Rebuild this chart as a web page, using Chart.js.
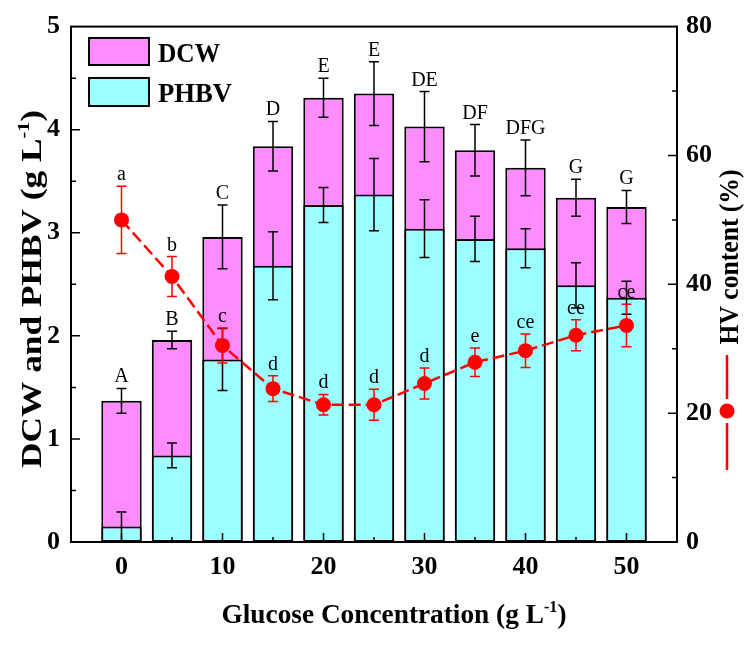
<!DOCTYPE html>
<html>
<head>
<meta charset="utf-8">
<script src="https://cdn.jsdelivr.net/npm/chart.js@4.4.1/dist/chart.umd.min.js"></script>
<style>
  html, body { margin: 0; padding: 0; background: #fff; }
  canvas { display: block; }
</style>
</head>
<body>
<canvas id="chart" width="754" height="645"></canvas>
<script>
// data
const glucose = [0, 5, 10, 15, 20, 25, 30, 35, 40, 45, 50];
const dcw = [1.37, 1.96, 2.96, 3.84, 4.31, 4.35, 4.03, 3.80, 3.63, 3.34, 3.25];
const dcwErr = [0.12, 0.085, 0.31, 0.24, 0.19, 0.31, 0.34, 0.25, 0.27, 0.18, 0.16];
const phbv = [0.15, 0.84, 1.77, 2.68, 3.27, 3.37, 3.04, 2.94, 2.85, 2.49, 2.37];
const phbvErr = [0.14, 0.12, 0.30, 0.33, 0.17, 0.35, 0.28, 0.22, 0.19, 0.22, 0.16];
const hv = [50.0, 41.2, 30.5, 23.8, 21.3, 21.3, 24.6, 27.9, 29.7, 32.1, 33.6];
const hvErr = [5.2, 3.1, 2.7, 2.0, 1.6, 2.4, 2.4, 2.2, 2.6, 2.4, 3.3];
const dcwLetters = ['A', 'B', 'C', 'D', 'E', 'E', 'DE', 'DF', 'DFG', 'G', 'G'];
const hvLetters = ['a', 'b', 'c', 'd', 'd', 'd', 'd', 'e', 'ce', 'ce', 'ce'];
const xTicks = [0, 10, 20, 30, 40, 50];
const yTicks = [0, 1, 2, 3, 4, 5];
const y1Ticks = [0, 20, 40, 60, 80];

const SERIF = '"Liberation Serif", "Times New Roman", serif';
const MAGENTA = '#FF8CFF';
const CYAN = '#9CFFFF';
const RED = '#FF0000';

function drawErr(ctx, xs, ys, vals, errs, color) {
    ctx.save();
    ctx.strokeStyle = color;
    ctx.lineWidth = 1.5;
    vals.forEach((v, i) => {
        const x = xs.getPixelForValue(glucose[i]);
        const top = ys.getPixelForValue(v + errs[i]);
        const bot = ys.getPixelForValue(Math.max(v - errs[i], 0));
        ctx.beginPath();
        ctx.moveTo(x, top); ctx.lineTo(x, bot);
        ctx.moveTo(x - 5, top); ctx.lineTo(x + 5, top);
        ctx.moveTo(x - 5, bot); ctx.lineTo(x + 5, bot);
        ctx.stroke();
    });
    ctx.restore();
}

// text squeezed/stretched to a given length, parts = [text, font, rise]
function fitText(ctx, parts, cx, cy, len, angle, base) {
    let w = 0;
    const widths = parts.map(p => {
        ctx.font = p[1];
        const m = ctx.measureText(p[0]).width;
        w += m;
        return m;
    });
    ctx.save();
    ctx.translate(cx, cy);
    ctx.rotate(angle);
    ctx.scale(len / w, 1);
    ctx.fillStyle = '#000';
    ctx.textAlign = 'left';
    ctx.textBaseline = 'alphabetic';
    let x = -w / 2;
    parts.forEach((p, i) => {
        ctx.font = p[1];
        ctx.fillText(p[0], x, base - p[2]);
        x += widths[i];
    });
    ctx.restore();
}

const errorBars = {
    id: 'errorBars',
    afterDatasetDraw(chart, args) {
        const { ctx, scales } = chart;
        if (args.index === 0) drawErr(ctx, scales.x, scales.y, dcw, dcwErr, '#000');
        if (args.index === 1) drawErr(ctx, scales.x, scales.y, phbv, phbvErr, '#000');
        if (args.index === 2) drawErr(ctx, scales.x, scales.y1, hv, hvErr, RED);
    }
};

const decorations = {
    id: 'decorations',
    afterDraw(chart) {
        const { ctx, chartArea: a, scales } = chart;
        const { x: xs, y: ys, y1 } = scales;
        ctx.save();

        // frame
        ctx.strokeStyle = '#000';
        ctx.lineWidth = 2;
        ctx.strokeRect(a.left, a.top, a.right - a.left, a.bottom - a.top);

        // inward ticks
        ctx.lineWidth = 1.5;
        ctx.beginPath();
        glucose.forEach(g => {
            const p = xs.getPixelForValue(g);
            const len = g % 10 === 0 ? 9 : 5;
            ctx.moveTo(p, a.bottom); ctx.lineTo(p, a.bottom - len);
        });
        for (let v = 0.5; v < 5; v += 0.5) {
            const p = ys.getPixelForValue(v);
            const len = v % 1 === 0 ? 9 : 5;
            ctx.moveTo(a.left, p); ctx.lineTo(a.left + len, p);
        }
        for (let v = 10; v < 80; v += 10) {
            const p = y1.getPixelForValue(v);
            const len = v % 20 === 0 ? 9 : 5;
            ctx.moveTo(a.right, p); ctx.lineTo(a.right - len, p);
        }
        ctx.stroke();

        // significance letters
        ctx.fillStyle = '#000';
        ctx.font = '20px ' + SERIF;
        ctx.textAlign = 'center';
        ctx.textBaseline = 'alphabetic';
        dcwLetters.forEach((t, i) => {
            ctx.fillText(t, xs.getPixelForValue(glucose[i]), ys.getPixelForValue(dcw[i] + dcwErr[i]) - 6);
        });
        hvLetters.forEach((t, i) => {
            ctx.fillText(t, xs.getPixelForValue(glucose[i]), y1.getPixelForValue(hv[i] + hvErr[i]) - 6);
        });

        // legend for bars
        ctx.lineWidth = 2;
        ctx.fillStyle = MAGENTA;
        ctx.fillRect(89, 38, 60, 27);
        ctx.strokeRect(89, 38, 60, 27);
        ctx.fillStyle = CYAN;
        ctx.fillRect(89, 78, 60, 28);
        ctx.strokeRect(89, 78, 60, 28);
        fitText(ctx, [['DCW', 'bold 28px ' + SERIF, 0]], 189, 52, 62, 0, 10);
        fitText(ctx, [['PHBV', 'bold 28px ' + SERIF, 0]], 195, 92, 74, 0, 10);

        // right legend symbol for HV
        ctx.strokeStyle = RED;
        ctx.lineWidth = 2.5;
        ctx.beginPath();
        ctx.moveTo(727, 355); ctx.lineTo(727, 399);
        ctx.moveTo(727, 423); ctx.lineTo(727, 470);
        ctx.stroke();
        ctx.fillStyle = RED;
        ctx.beginPath();
        ctx.arc(727, 411, 7.5, 0, Math.PI * 2);
        ctx.fill();

        // axis titles
        fitText(ctx, [['DCW and PHBV (g L', 'bold 30px ' + SERIF, 0], ['-1', 'bold 17px ' + SERIF, 12], [')', 'bold 30px ' + SERIF, 0]],
            31, 289, 358, -Math.PI / 2, 10);
        fitText(ctx, [['HV content (%)', 'bold 27px ' + SERIF, 0]], 729, 257, 175, -Math.PI / 2, 9);
        fitText(ctx, [['Glucose Concentration (g L', 'bold 27px ' + SERIF, 0], ['-1', 'bold 16px ' + SERIF, 11], [')', 'bold 27px ' + SERIF, 0]],
            394, 614, 345, 0, 9);

        ctx.restore();
    }
};

const tickFont = { family: SERIF, size: 26, weight: 'bold' };

new Chart(document.getElementById('chart'), {
    type: 'bar',
    data: {
        datasets: [
            {
                type: 'bar',
                label: 'DCW',
                data: glucose.map((g, i) => ({ x: g, y: dcw[i] })),
                backgroundColor: MAGENTA,
                borderColor: '#000',
                borderWidth: 2,
                borderSkipped: false,
                grouped: false,
                barPercentage: 0.8,
                categoryPercentage: 1,
                yAxisID: 'y',
                order: 2
            },
            {
                type: 'bar',
                label: 'PHBV',
                data: glucose.map((g, i) => ({ x: g, y: phbv[i] })),
                backgroundColor: CYAN,
                borderColor: '#000',
                borderWidth: 2,
                borderSkipped: false,
                grouped: false,
                barPercentage: 0.8,
                categoryPercentage: 1,
                yAxisID: 'y',
                order: 1
            },
            {
                type: 'line',
                label: 'HV content (%)',
                data: glucose.map((g, i) => ({ x: g, y: hv[i] })),
                borderColor: RED,
                borderWidth: 2.5,
                borderDash: [12, 5],
                pointRadius: 7.5,
                pointBackgroundColor: RED,
                pointBorderWidth: 0,
                tension: 0,
                yAxisID: 'y1',
                order: 0
            }
        ]
    },
    options: {
        responsive: false,
        animation: false,
        devicePixelRatio: 1,
        layout: { padding: { top: 19, left: 0, right: 0, bottom: 0 } },
        plugins: {
            legend: { display: false },
            tooltip: { enabled: false }
        },
        scales: {
            x: {
                type: 'linear',
                min: -5,
                max: 55,
                offset: false,
                afterBuildTicks: s => { s.ticks = xTicks.map(v => ({ value: v })); },
                ticks: { font: tickFont, color: '#000', padding: 10, maxRotation: 0 },
                grid: { display: false, drawTicks: false },
                border: { display: true, color: '#000', width: 2 },
                afterFit: s => { s.height = 103; }
            },
            y: {
                position: 'left',
                min: 0,
                max: 5,
                afterBuildTicks: s => { s.ticks = yTicks.map(v => ({ value: v })); },
                ticks: { font: tickFont, color: '#000', padding: 11 },
                grid: { display: false, drawTicks: false },
                border: { display: true, color: '#000', width: 2 },
                afterFit: s => { s.width = 71; }
            },
            y1: {
                position: 'right',
                min: 0,
                max: 80,
                afterBuildTicks: s => { s.ticks = y1Ticks.map(v => ({ value: v })); },
                ticks: { font: tickFont, color: '#000', padding: 9 },
                grid: { display: false, drawTicks: false },
                border: { display: true, color: '#000', width: 2 },
                afterFit: s => { s.width = 77; }
            }
        }
    },
    plugins: [errorBars, decorations]
});
</script>
</body>
</html>
